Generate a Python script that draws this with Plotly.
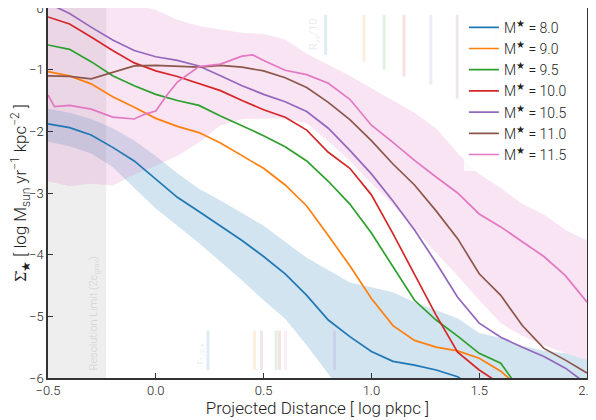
import plotly.graph_objects as go

# ---------------- data ----------------
X = [-0.5, -0.4, -0.3, -0.2, -0.1, 0.0, 0.1, 0.2, 0.3, 0.4, 0.5, 0.6, 0.7,
     0.8, 0.9, 1.0, 1.1, 1.2, 1.3, 1.4, 1.5, 1.6, 1.7, 1.8, 1.9, 2.0]

masses = ["8.0", "9.0", "9.5", "10.0", "10.5", "11.0", "11.5"]
colors = ["#1f77b4", "#ff7f0e", "#2ca02c", "#d62728", "#9467bd", "#8c564b", "#e377c2"]

y_m80 = [-1.88, -1.94, -2.06, -2.26, -2.48, -2.77, -3.07, -3.30, -3.54, -3.77, -4.03,
         -4.31, -4.66, -5.06, -5.33, -5.57, -5.73, -5.79, -5.87, -5.98, -6.2]
y_m90 = [-1.03, -1.10, -1.23, -1.44, -1.61, -1.79, -1.92, -2.02, -2.19, -2.39, -2.60,
         -2.87, -3.21, -3.69, -4.18, -4.71, -5.15, -5.39, -5.50, -5.56, -5.68, -5.89, -6.2]
y_m95 = [-0.60, -0.67, -0.87, -1.10, -1.26, -1.40, -1.50, -1.58, -1.75, -1.91, -2.07,
         -2.25, -2.48, -2.81, -3.18, -3.65, -4.19, -4.74, -5.06, -5.32, -5.60, -5.76, -6.25]
y_m100 = [-0.145, -0.26, -0.47, -0.69, -0.89, -1.02, -1.11, -1.23, -1.34, -1.50, -1.65,
          -1.77, -1.98, -2.34, -2.60, -3.03, -3.66, -4.32, -4.98, -5.58, -5.87, -6.1]
y_m105 = [0.08, -0.09, -0.31, -0.52, -0.69, -0.79, -0.85, -0.94, -1.10, -1.26, -1.40,
          -1.52, -1.68, -1.95, -2.31, -2.69, -3.13, -3.60, -4.13, -4.69, -5.11, -5.34,
          -5.50, -5.65, -5.84, -6.1]
y_m110 = [-1.10, -1.11, -1.15, -1.05, -0.94, -0.93, -0.95, -0.96, -0.93, -0.96, -1.02,
          -1.13, -1.29, -1.53, -1.81, -2.15, -2.53, -2.87, -3.29, -3.74, -4.31, -4.66,
          -5.15, -5.52, -5.71, -5.92]
x_m115 = [-0.5, -0.47, -0.4, -0.3, -0.2, -0.1, -0.05, 0.0, 0.05, 0.1, 0.2, 0.3, 0.4,
          0.45, 0.5, 0.6, 0.7, 0.8, 0.9, 1.0, 1.1, 1.2, 1.3, 1.4, 1.5, 1.6, 1.7, 1.8, 1.9, 2.0]
y_m115 = [-1.41, -1.60, -1.58, -1.64, -1.77, -1.80, -1.72, -1.67, -1.42, -1.20, -0.95,
          -0.91, -0.78, -0.76, -0.85, -1.01, -1.08, -1.22, -1.48, -1.90, -2.18, -2.47,
          -2.74, -3.00, -3.34, -3.55, -3.79, -4.03, -4.34, -4.77]

# scatter bands (16th-84th percentile) for lowest and highest mass bins
band80_hi = [-1.63, -1.70, -1.80, -1.95, -2.15, -2.40, -2.68, -2.93, -3.12, -3.32, -3.53,
             -3.79, -4.05, -4.25, -4.45, -4.53, -4.61, -4.77, -4.90, -5.03, -5.27, -5.35,
             -5.48, -5.56, -5.60, -5.71]
band80_lo = [-2.17, -2.24, -2.36, -2.58, -2.92, -3.25, -3.53, -3.81, -4.11, -4.42, -4.74,
             -5.04, -5.47, -5.94, -6.4, -6.6, -6.6, -6.6, -6.6, -6.6, -6.6, -6.6, -6.6,
             -6.6, -6.6, -6.6]
band115_hi = [0.3, 0.25, 0.2, 0.12, 0.05, -0.03, -0.19, -0.29, -0.35, -0.40, -0.42, -0.51,
              -0.74, -0.92, -1.10, -1.30, -1.50, -1.70, -1.95, -2.35, -2.69, -2.92, -3.18,
              -3.35, -3.60, -3.77]
band115_lo = [-2.81, -2.89, -2.85, -2.88, -2.70, -2.56, -2.40, -2.18, -1.90, -1.80, -1.80,
              -1.79, -1.87, -2.16, -2.48, -2.84, -3.19, -3.58, -3.97, -4.34, -4.74, -5.11,
              -5.32, -5.47, -5.60, -5.71]

# characteristic radii markers (log pkpc)
rvir10_x = [0.788, 0.966, 1.059, 1.151, 1.276, 1.398, 1.577]
rvir10_ybot = [-0.76, -0.87, -1.00, -1.11, -1.24, -1.47, -1.47]
rhalf_x = [0.242, 0.458, 0.558, 0.574, 0.829, 0.49, 0.602]
res_limit = -0.23

xticks = [-0.5, 0.0, 0.5, 1.0, 1.5, 2.0]
yticks = [0, -1, -2, -3, -4, -5, -6]

series = [(X[:len(y_m80)], y_m80), (X[:len(y_m90)], y_m90), (X[:len(y_m95)], y_m95),
          (X[:len(y_m100)], y_m100), (X, y_m105), (X, y_m110), (x_m115, y_m115)]

FONT = "Roboto"

def rgba(hexc, a):
    h = hexc.lstrip("#")
    return "rgba(%d,%d,%d,%s)" % (int(h[0:2], 16), int(h[2:4], 16), int(h[4:6], 16), a)

fig = go.Figure()

# bands
for hi, lo, c in [(band80_hi, band80_lo, colors[0]), (band115_hi, band115_lo, colors[6])]:
    fig.add_trace(go.Scatter(x=X + X[::-1], y=hi + lo[::-1], fill="toself",
                             fillcolor=rgba(c, 0.2), line=dict(width=0),
                             mode="lines", showlegend=False, hoverinfo="skip"))

# lines
for (xs, ys), m, c in zip(series, masses, colors):
    fig.add_trace(go.Scatter(x=xs, y=ys, mode="lines", line=dict(color=c, width=1.7),
                             name="M<sup>★</sup> = " + m))

shapes = []
# resolution limit shading
shapes.append(dict(type="rect", xref="x", yref="y", x0=-0.5, x1=res_limit, y0=-6, y1=0,
                   fillcolor="rgba(120,120,120,0.13)", line=dict(width=0), layer="below"))
for xv, yb, c in zip(rvir10_x, rvir10_ybot, colors):
    shapes.append(dict(type="line", xref="x", yref="y", x0=xv, x1=xv, y0=-0.11, y1=yb,
                       line=dict(color=rgba(c, 0.14), width=3)))
for xv, c in zip(rhalf_x, colors):
    shapes.append(dict(type="line", xref="x", yref="y", x0=xv, x1=xv, y0=-5.23, y1=-5.87,
                       line=dict(color=rgba(c, 0.14), width=3)))

annotations = [
    dict(x=-0.285, y=-4.95, xref="x", yref="y", text="Resolution Limit (2ε<sub>grav</sub>)",
         textangle=-90, showarrow=False, font=dict(family=FONT, size=11, color="#d2d2d2")),
    dict(x=0.735, y=-0.42, xref="x", yref="y", text="R<sub>vir</sub>/10",
         textangle=-90, showarrow=False, font=dict(family=FONT, size=11, color="#dfe6ee")),
    dict(x=0.205, y=-5.6, xref="x", yref="y", text="r<sub>1/2,⋆</sub>",
         textangle=-90, showarrow=False, font=dict(family=FONT, size=11, color="#dfe6ee")),
]

# page body has an 8px default margin, so the figure is sized to fit the window
fig.update_layout(
    width=588, height=412,
    margin=dict(l=40, r=9, t=0, b=42, autoexpand=False),
    paper_bgcolor="white", plot_bgcolor="white",
    font=dict(family=FONT, size=13, color="#222", weight=300),
    shapes=shapes, annotations=annotations,
    showlegend=True,
    legend=dict(x=0.972, xanchor="right", y=0.99, yanchor="top",
                bgcolor="rgba(255,255,255,0.85)",
                font=dict(family=FONT, size=14, color="#222", weight=300),
                tracegroupgap=0, itemwidth=30),
)
fig.update_xaxes(range=[-0.5, 2.0], tickvals=xticks, tickformat=".1f",
                 ticks="inside", ticklen=5, tickcolor="#333", automargin=False,
                 ticklabeloverflow="allow",
                 showline=True, linecolor="#333", linewidth=1.5, mirror=True,
                 showgrid=False, zeroline=False,
                 title=dict(text="Projected Distance [ log pkpc ]",
                            font=dict(family=FONT, size=17, weight=300), standoff=2))
fig.update_yaxes(range=[-6, 0], tickvals=yticks, automargin=False,
                 ticklabeloverflow="allow",
                 ticks="inside", ticklen=5, tickcolor="#333",
                 showline=True, linecolor="#333", linewidth=1.5, mirror=True,
                 showgrid=False, zeroline=False,
                 title=dict(text="Σ̇<sub>★</sub> [ log M<sub>sun</sub> yr<sup>−1</sup> kpc<sup>−2</sup> ]",
                            font=dict(family=FONT, size=17, weight=300), standoff=6))

fig.write_html("out.html")
